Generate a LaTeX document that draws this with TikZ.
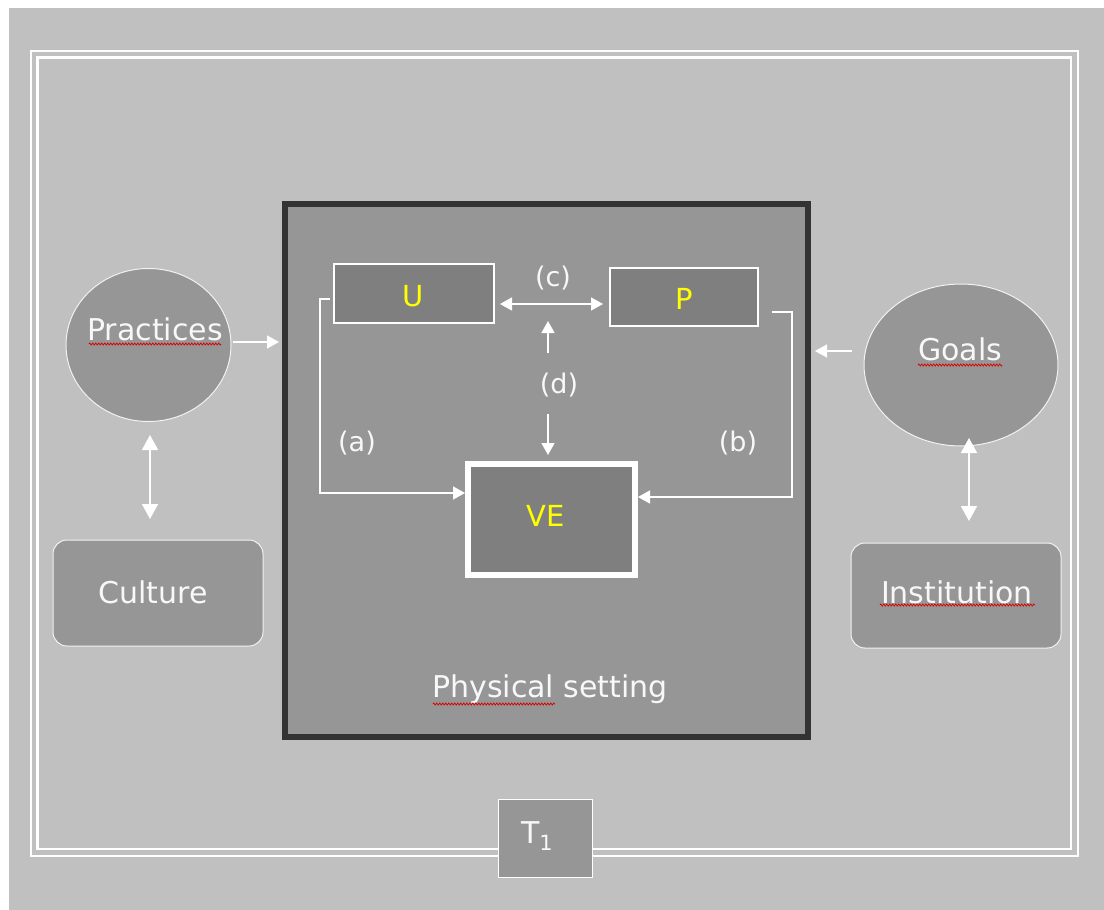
\documentclass[tikz,border=0pt]{standalone}
\usepackage{fontspec}
\setmainfont{DejaVu Sans}
\usetikzlibrary{arrows.meta,shapes.geometric,decorations.pathmorphing}
\definecolor{bggray}{HTML}{C0C0C0}
\definecolor{midgray}{HTML}{969696}
\definecolor{darkgray2}{HTML}{7F7F7F}
\definecolor{borderdark}{HTML}{333333}
\definecolor{txtyellow}{HTML}{FFFF00}
\definecolor{txtwhite}{HTML}{F8F8F8}
\tikzset{
  lbl/.style={text=txtwhite, font=\fontsize{27}{29}\selectfont, inner sep=0pt},
  bigtxt/.style={text=txtwhite, font=\fontsize{30}{32}\selectfont, inner sep=0pt},
  ytxt/.style={text=txtyellow, font=\fontsize{29}{31}\selectfont, inner sep=0pt},
  innerbox/.style={draw=white, line width=1.2pt, fill=darkgray2},
  outerblob/.style={draw=white!90!gray, line width=1pt, fill=midgray},
  conn/.style={draw=white, line width=1.6pt},
  arr/.style={conn, -{Triangle[length=12pt,width=13pt]}},
  darr/.style={conn, {Triangle[length=12pt,width=13pt]}-{Triangle[length=12pt,width=13pt]}},
  bigdarr/.style={conn, {Triangle[length=15pt,width=16pt]}-{Triangle[length=15pt,width=16pt]}},
  squig/.style={draw=red!85!black, line width=0.7pt, decorate, decoration={zigzag, segment length=3pt, amplitude=1.1pt}}
}
\begin{document}
\begin{tikzpicture}[x=1pt,y=-1pt]
\useasboundingbox (0,0) rectangle (1104,910);
\fill[white] (0,0) rectangle (1104,910);
\fill[bggray] (9,8) rectangle (1104,910);
% double frame
\draw[white, line width=2.4pt] (31,51) rectangle (1078,856);
\draw[white, line width=2.4pt] (37.5,57.5) rectangle (1071,849);
% T1 box
\node[draw=white, line width=1.2pt, fill=midgray, minimum width=94pt, minimum height=78pt, inner sep=0pt] (T) at (545.5,838.5) {};
\node[text=txtwhite, font=\fontsize{30}{32}\selectfont, inner sep=0pt] (Tt) at (537,836) {T\raisebox{-7pt}{\fontsize{21}{21}\selectfont 1}};
% physical setting
\node[draw=borderdark, line width=6pt, fill=midgray, minimum width=523pt, minimum height=533pt, inner sep=0pt] (PS) at (546.5,470.5) {};
\node[bigtxt] (PSt) at (550,689) {Physical setting};
\draw[squig] (433,704) -- (555,704);
% U, P, VE
\node[innerbox, minimum width=160pt, minimum height=59pt, inner sep=0pt] (U) at (414,293.5) {};
\node[ytxt] (Ut) at (413,296) {U};
\node[innerbox, minimum width=148pt, minimum height=58pt, inner sep=0pt] (P) at (684,297) {};
\node[ytxt] (Pt) at (684,299) {P};
\node[draw=white, line width=6pt, fill=darkgray2, minimum width=167pt, minimum height=111pt, inner sep=0pt] (VE) at (551.5,519.5) {};
\node[ytxt] (VEt) at (546,516) {VE};
% labels
\node[lbl] (lc) at (553,278) {(c)};
\node[lbl] (ld) at (559,385) {(d)};
\node[lbl] (la) at (357,443) {(a)};
\node[lbl] (lb) at (738,443) {(b)};
% connectors inside
\coordinate (cL) at (500,304);
\coordinate (cR) at (603,304);
\draw[darr] (cL) -- (cR);
\coordinate (d1) at (548,353);
\coordinate (d2) at (548,321);
\draw[arr] (d1) -- (d2);
\coordinate (d3) at (548,414);
\coordinate (d4) at (548,455);
\draw[arr] (d3) -- (d4);
\coordinate (ua) at (330,299);
\coordinate (ub) at (320,299);
\coordinate (uc) at (320,493);
\coordinate (ud) at (465,493);
\draw[arr] (ua) -- (ub) -- (uc) -- (ud);
\coordinate (pa) at (772,312);
\coordinate (pb) at (792,312);
\coordinate (pc) at (792,497);
\coordinate (pd) at (638,497);
\draw[arr] (pa) -- (pb) -- (pc) -- (pd);
% left side
\node[ellipse, outerblob, minimum width=165pt, minimum height=153pt, inner sep=0pt] (Pr) at (148.5,345) {};
\node[bigtxt] (Prt) at (155,329) {Practices};
\draw[squig] (89,344) -- (221,344);
\coordinate (pr1) at (233,342);
\coordinate (pr2) at (279,342);
\draw[arr] (pr1) -- (pr2);
\node[draw=white!90!gray, line width=1pt, fill=midgray, rounded corners=14pt, minimum width=210pt, minimum height=106pt, inner sep=0pt] (Cu) at (158,593) {};
\node[bigtxt] (Cut) at (153,592) {Culture};
\coordinate (cu1) at (150,435);
\coordinate (cu2) at (150,519);
\draw[bigdarr] (cu1) -- (cu2);
% right side
\node[ellipse, outerblob, minimum width=194pt, minimum height=162pt, inner sep=0pt] (G) at (961,365) {};
\node[bigtxt] (Gt) at (960,349) {Goals};
\draw[squig] (918,365) -- (1002,365);
\coordinate (g1) at (852,351);
\coordinate (g2) at (815,351);
\draw[arr] (g1) -- (g2);
\node[draw=white!90!gray, line width=1pt, fill=midgray, rounded corners=14pt, minimum width=210pt, minimum height=105pt, inner sep=0pt] (In) at (956,595.5) {};
\node[bigtxt] (Int) at (957,592) {Institution};
\draw[squig] (880,605) -- (1035,605);
\coordinate (i1) at (969,438);
\coordinate (i2) at (969,521);
\draw[bigdarr] (i1) -- (i2);
\end{tikzpicture}
\end{document}
